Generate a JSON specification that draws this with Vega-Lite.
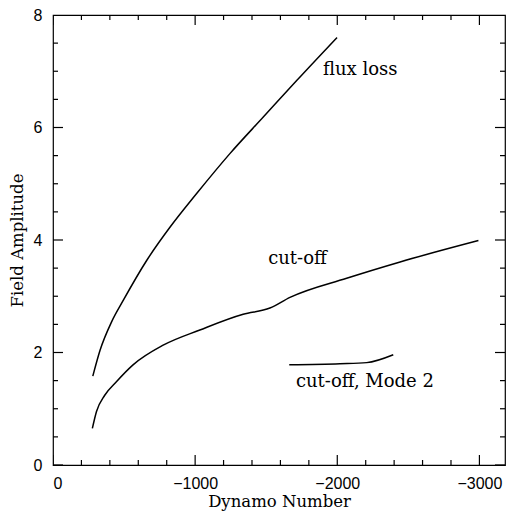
{
  "$schema": "https://vega.github.io/schema/vega-lite/v6.json",
  "width": 452,
  "height": 450,
  "autosize": {"type": "none"},
  "padding": {"left": 53, "top": 15, "right": 3, "bottom": 48},
  "background": "white",
  "config": {
    "view": {"stroke": "black", "strokeWidth": 1.2},
    "axis": {"grid": false, "domain": false, "ticks": false, "labelColor": "black", "titleColor": "black"}
  },
  "datasets": {
    "curves": [
      {"series": "flux loss", "x": -280, "y": 1.58},
      {"series": "flux loss", "x": -331, "y": 2.04},
      {"series": "flux loss", "x": -413, "y": 2.55},
      {"series": "flux loss", "x": -495, "y": 2.93},
      {"series": "flux loss", "x": -660, "y": 3.64},
      {"series": "flux loss", "x": -824, "y": 4.23},
      {"series": "flux loss", "x": -1012, "y": 4.83},
      {"series": "flux loss", "x": -1246, "y": 5.54},
      {"series": "flux loss", "x": -1481, "y": 6.19},
      {"series": "flux loss", "x": -1716, "y": 6.84},
      {"series": "flux loss", "x": -1998, "y": 7.6},
      {"series": "cut-off", "x": -277, "y": 0.65},
      {"series": "cut-off", "x": -306, "y": 0.95},
      {"series": "cut-off", "x": -364, "y": 1.24},
      {"series": "cut-off", "x": -446, "y": 1.48},
      {"series": "cut-off", "x": -563, "y": 1.78},
      {"series": "cut-off", "x": -775, "y": 2.13},
      {"series": "cut-off", "x": -1033, "y": 2.4},
      {"series": "cut-off", "x": -1338, "y": 2.68},
      {"series": "cut-off", "x": -1526, "y": 2.79},
      {"series": "cut-off", "x": -1667, "y": 2.98},
      {"series": "cut-off", "x": -2066, "y": 3.32},
      {"series": "cut-off", "x": -2442, "y": 3.61},
      {"series": "cut-off", "x": -2993, "y": 3.99},
      {"series": "mode2", "x": -1662, "y": 1.78},
      {"series": "mode2", "x": -2019, "y": 1.8},
      {"series": "mode2", "x": -2207, "y": 1.82},
      {"series": "mode2", "x": -2394, "y": 1.96}
    ],
    "labels": [
      {"text": "flux loss", "x": -1899, "y": 7.02},
      {"text": "cut-off", "x": -1514, "y": 3.67},
      {"text": "cut-off, Mode 2", "x": -1709, "y": 1.48}
    ],
    "xMajor": [{"v": 0}, {"v": -1000}, {"v": -2000}, {"v": -3000}],
    "xMinor": [{"v": -200}, {"v": -400}, {"v": -600}, {"v": -800}, {"v": -1200}, {"v": -1400}, {"v": -1600}, {"v": -1800}, {"v": -2200}, {"v": -2400}, {"v": -2600}, {"v": -2800}],
    "yMajor": [{"v": 0}, {"v": 2}, {"v": 4}, {"v": 6}, {"v": 8}],
    "yMinor": [{"v": 0.5}, {"v": 1}, {"v": 1.5}, {"v": 2.5}, {"v": 3}, {"v": 3.5}, {"v": 4.5}, {"v": 5}, {"v": 5.5}, {"v": 6.5}, {"v": 7}, {"v": 7.5}]
  },
  "layer": [
    {
      "data": {"name": "curves"},
      "mark": {"type": "line", "color": "black", "strokeWidth": 1.5, "interpolate": "monotone"},
      "encoding": {
        "x": {"field": "x", "type": "quantitative",
              "scale": {"domain": [0, -3180], "nice": false, "zero": false},
              "axis": {"orient": "bottom", "title": "Dynamo Number",
                       "values": [0, -1000, -2000, -3000], "format": "d",
                       "labelFont": "Liberation Sans", "labelFontSize": 16, "labelPadding": 10,
                       "titleFont": "DejaVu Serif", "titleFontSize": 16.5, "titleFontWeight": "normal", "titlePadding": 2}},
        "y": {"field": "y", "type": "quantitative",
              "scale": {"domain": [0, 8], "nice": false},
              "axis": {"orient": "left", "title": "Field Amplitude",
                       "values": [0, 2, 4, 6, 8], "format": "d",
                       "labelFont": "Liberation Sans", "labelFontSize": 16, "labelPadding": 11,
                       "titleFont": "DejaVu Serif", "titleFontSize": 16.5, "titleFontWeight": "normal", "titlePadding": 8}},
        "detail": {"field": "series", "type": "nominal"}
      }
    },
    {
      "data": {"name": "xMajor"},
      "mark": {"type": "tick", "orient": "vertical", "size": 20, "thickness": 1.2, "color": "black", "opacity": 1, "clip": true},
      "encoding": {"x": {"field": "v", "type": "quantitative"}, "y": {"datum": 0}}
    },
    {
      "data": {"name": "xMajor"},
      "mark": {"type": "tick", "orient": "vertical", "size": 20, "thickness": 1.2, "color": "black", "opacity": 1, "clip": true},
      "encoding": {"x": {"field": "v", "type": "quantitative"}, "y": {"datum": 8}}
    },
    {
      "data": {"name": "xMinor"},
      "mark": {"type": "tick", "orient": "vertical", "size": 10, "thickness": 1.2, "color": "black", "opacity": 1, "clip": true},
      "encoding": {"x": {"field": "v", "type": "quantitative"}, "y": {"datum": 0}}
    },
    {
      "data": {"name": "xMinor"},
      "mark": {"type": "tick", "orient": "vertical", "size": 10, "thickness": 1.2, "color": "black", "opacity": 1, "clip": true},
      "encoding": {"x": {"field": "v", "type": "quantitative"}, "y": {"datum": 8}}
    },
    {
      "data": {"name": "yMajor"},
      "mark": {"type": "tick", "orient": "horizontal", "size": 20, "thickness": 1.2, "color": "black", "opacity": 1, "clip": true},
      "encoding": {"y": {"field": "v", "type": "quantitative"}, "x": {"datum": 0}}
    },
    {
      "data": {"name": "yMajor"},
      "mark": {"type": "tick", "orient": "horizontal", "size": 20, "thickness": 1.2, "color": "black", "opacity": 1, "clip": true},
      "encoding": {"y": {"field": "v", "type": "quantitative"}, "x": {"datum": -3180}}
    },
    {
      "data": {"name": "yMinor"},
      "mark": {"type": "tick", "orient": "horizontal", "size": 10, "thickness": 1.2, "color": "black", "opacity": 1, "clip": true},
      "encoding": {"y": {"field": "v", "type": "quantitative"}, "x": {"datum": 0}}
    },
    {
      "data": {"name": "yMinor"},
      "mark": {"type": "tick", "orient": "horizontal", "size": 10, "thickness": 1.2, "color": "black", "opacity": 1, "clip": true},
      "encoding": {"y": {"field": "v", "type": "quantitative"}, "x": {"datum": -3180}}
    },
    {
      "data": {"name": "labels"},
      "mark": {"type": "text", "align": "left", "baseline": "middle", "font": "DejaVu Serif", "fontSize": 18, "color": "black"},
      "encoding": {
        "x": {"field": "x", "type": "quantitative"},
        "y": {"field": "y", "type": "quantitative"},
        "text": {"field": "text"}
      }
    }
  ]
}
